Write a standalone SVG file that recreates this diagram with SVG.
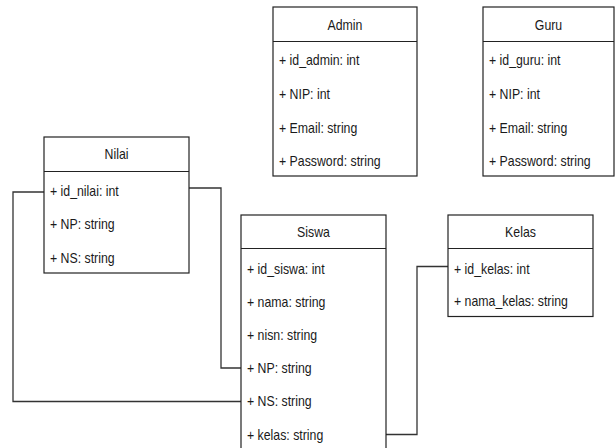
<svg xmlns="http://www.w3.org/2000/svg" width="616" height="448" viewBox="0 0 616 448">
<style>
.box{fill:#ffffff;stroke:#222222;stroke-width:1.2}
.sep{stroke:#222222;stroke-width:1.2}
.t{font-family:"Liberation Sans",Arial,sans-serif;font-size:14px;fill:#1a1a1a}
.h{text-anchor:middle}
.conn{fill:none;stroke:#333333;stroke-width:1.3}
</style>
<rect width="616" height="448" fill="#ffffff"/>
<g id="connectors">
<path class="conn" d="M44 192 H13 V401.5 H241"/>
<path class="conn" d="M189 188 H221 V368 H241"/>
<path class="conn" d="M386 434.5 H417 V266.5 H448"/>
</g>
<g id="admin">
<rect class="box" x="273" y="7" width="144" height="169"/>
<line class="sep" x1="273" y1="41.5" x2="417" y2="41.5"/>
<text class="t h" transform="translate(345,29.5) scale(0.88,1)">Admin</text>
<text class="t" transform="translate(279,64.5) scale(0.88,1)">+ id_admin: int</text>
<text class="t" transform="translate(279,98.5) scale(0.88,1)">+ NIP: int</text>
<text class="t" transform="translate(279,132.5) scale(0.88,1)">+ Email: string</text>
<text class="t" transform="translate(279,165.5) scale(0.88,1)">+ Password: string</text>
</g>
<g id="guru">
<rect class="box" x="483" y="7" width="131" height="169"/>
<line class="sep" x1="483" y1="41.5" x2="614" y2="41.5"/>
<text class="t h" transform="translate(548.5,29.5) scale(0.88,1)">Guru</text>
<text class="t" transform="translate(489,64.5) scale(0.88,1)">+ id_guru: int</text>
<text class="t" transform="translate(489,98.5) scale(0.88,1)">+ NIP: int</text>
<text class="t" transform="translate(489,132.5) scale(0.88,1)">+ Email: string</text>
<text class="t" transform="translate(489,165.5) scale(0.88,1)">+ Password: string</text>
</g>
<g id="nilai">
<rect class="box" x="44" y="137" width="145" height="136"/>
<line class="sep" x1="44" y1="171.5" x2="189" y2="171.5"/>
<text class="t h" transform="translate(116.5,159) scale(0.88,1)">Nilai</text>
<text class="t" transform="translate(50,195.5) scale(0.88,1)">+ id_nilai: int</text>
<text class="t" transform="translate(50,228.5) scale(0.88,1)">+ NP: string</text>
<text class="t" transform="translate(50,262.5) scale(0.88,1)">+ NS: string</text>
</g>
<g id="siswa">
<rect class="box" x="241" y="215" width="145" height="240"/>
<line class="sep" x1="241" y1="248.5" x2="386" y2="248.5"/>
<text class="t h" transform="translate(313.5,236.5) scale(0.88,1)">Siswa</text>
<text class="t" transform="translate(247,273.5) scale(0.88,1)">+ id_siswa: int</text>
<text class="t" transform="translate(247,306.5) scale(0.88,1)">+ nama: string</text>
<text class="t" transform="translate(247,339.5) scale(0.88,1)">+ nisn: string</text>
<text class="t" transform="translate(247,372.5) scale(0.88,1)">+ NP: string</text>
<text class="t" transform="translate(247,406) scale(0.88,1)">+ NS: string</text>
<text class="t" transform="translate(247,439.5) scale(0.88,1)">+ kelas: string</text>
</g>
<g id="kelas">
<rect class="box" x="448" y="215" width="145" height="101.5"/>
<line class="sep" x1="448" y1="248.5" x2="593" y2="248.5"/>
<text class="t h" transform="translate(520.5,236.5) scale(0.88,1)">Kelas</text>
<text class="t" transform="translate(454,273.5) scale(0.88,1)">+ id_kelas: int</text>
<text class="t" transform="translate(454,305.5) scale(0.88,1)">+ nama_kelas: string</text>
</g>
</svg>
